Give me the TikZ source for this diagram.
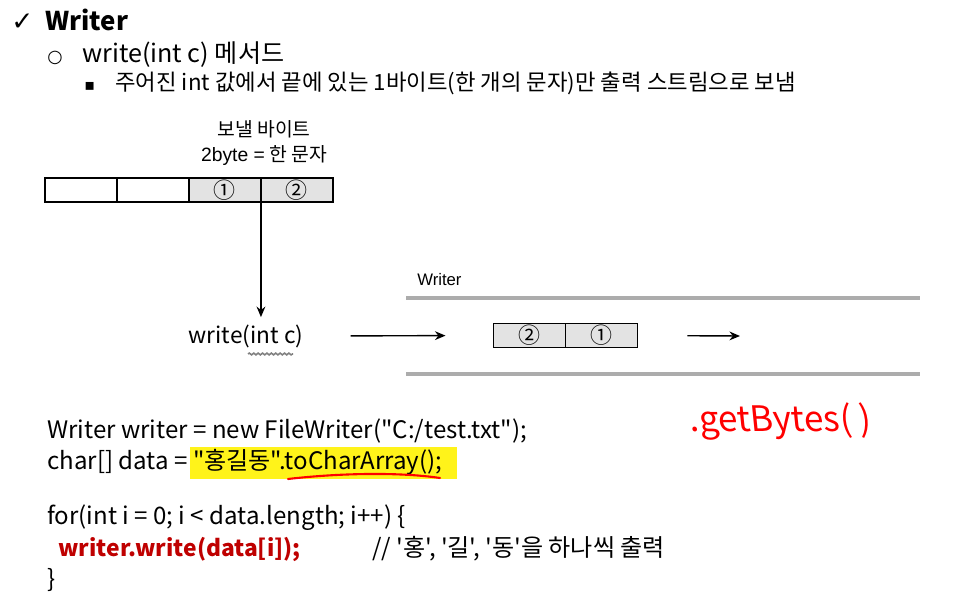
\documentclass[tikz,border=0pt]{standalone}
\usepackage{fontspec}
\setmainfont{Noto Sans CJK KR}
\newfontfamily\krfont{Noto Sans CJK KR}
\newfontfamily\symfont{DejaVu Sans}
\newfontfamily\figfont{Liberation Sans}
\usetikzlibrary{positioning,arrows.meta,decorations.pathmorphing}

\begin{document}
\begin{tikzpicture}[
      x=0.02cm, y=-0.02cm,
      txt/.style={anchor=base west, inner sep=0pt},
      code/.style={txt, font=\krfont\fontsize{13.7}{16}\selectfont},
      cell/.style={draw, line width=0.7pt, minimum width=1.44cm, minimum height=0.48cm, inner sep=0pt, outer sep=0pt, font=\krfont\fontsize{12.5}{14}\selectfont},
      gcell/.style={cell, fill=gray!22},
      chan/.style={draw=gray!65, line width=1.8pt},
      arr/.style={-{Stealth[length=6pt,width=5pt]}, line width=0.8pt},
      hl/.style={fill=yellow!90!white},
      >=Stealth
    ]

    \useasboundingbox (0,0) rectangle (975,597);

    % ---- heading lines ----
    \node[txt, font=\symfont\fontsize{15}{17}\selectfont] (chk) at (11,31) {✓};
    \node[txt, font=\fontsize{14.7}{17}\selectfont\bfseries] (hd) at (45,31) {Writer};
    \node[txt, font=\symfont\normalsize] (cir) at (47,63) {○};
    \node[txt, font=\fontsize{14.3}{17}\selectfont] (mth) at (82,63) {write(int c) 메서드};
    \node[txt, font=\symfont\small] (sq) at (84,91) {▪};
    \node[txt, font=\fontsize{12.7}{15}\selectfont] (dsc) at (115,91) {주어진 int 값에서 끝에 있는 1바이트(한 개의 문자)만 출력 스트림으로 보냄};

    % ---- byte row ----
    \node[anchor=base, inner sep=0pt, font=\krfont\fontsize{11}{13}\selectfont] (lb1) at (264,137) {보낼 바이트};
    \node[anchor=base, inner sep=0pt, font=\fontsize{11}{13}\selectfont] (lb2) at (264,162) {{\figfont 2byte =} {\krfont 한 문자}};

    \node[cell] (b1) at (81,190) {};
    \node[cell, right=0pt of b1] (b2) {};
    \node[gcell, right=0pt of b2] (b3) {①};
    \node[gcell, right=0pt of b3] (b4) {②};

    \node[inner sep=4pt, font=\fontsize{12.9}{15}\selectfont] (wr) at (246,336) {write(int c)};
    \draw[arr] (b3.south east) -- (b3.south east |- wr.north);
    \draw[gray, line width=0.9pt, decorate, decoration={snake, amplitude=0.5pt, segment length=2.5pt}] (248,354) -- (293,354);

    % ---- writer stream ----
    \node[txt, font=\figfont\fontsize{9.5}{11}\selectfont] (wlb) at (417,286) {Writer};
    \draw[chan] (406,298) -- (920,298);
    \draw[chan] (406,374) -- (920,374);

    \node[gcell] (q2) at (529.5,335.5) {②};
    \node[gcell, right=0pt of q2] (q1) {①};
    \coordinate (out) at (740,336);

    \draw[arr, shorten <=0.8cm, shorten >=0.96cm] (wr.east) -- (q2.west);
    \draw[arr, shorten <=1cm] (q1.east) -- (out);

    % ---- code ----
    \fill[hl] (190,447) rectangle (457,479);
    \node[code] (c1) at (47,439) {Writer writer = new FileWriter("C:/test.txt");};
    \node[code] (c2) at (47,470) {char[] data = "홍길동".toCharArray();};
    \draw[red, line width=1.2pt, line cap=round] (288,479) .. controls (340,473) and (400,472) .. (440,478);

    \node[code] (c3) at (47,525) {for(int i = 0; i < data.length; i++) \{};
    \node[code, font=\krfont\fontsize{13}{16}\selectfont\bfseries, text=red!75!black] (c4) at (58,557) {writer.write(data[i]);};
    \node[code] (cm) at (372,557) {// '홍', '길', '동'을 하나씩 출력};
    \node[code] (c5) at (47,588) {\}};

    % ---- hand note ----
    \node[txt, font=\fontsize{20}{22}\selectfont, text=red, xslant=-0.1] (note) at (690,432) {.getBytes( )};

\end{tikzpicture}
\end{document}
